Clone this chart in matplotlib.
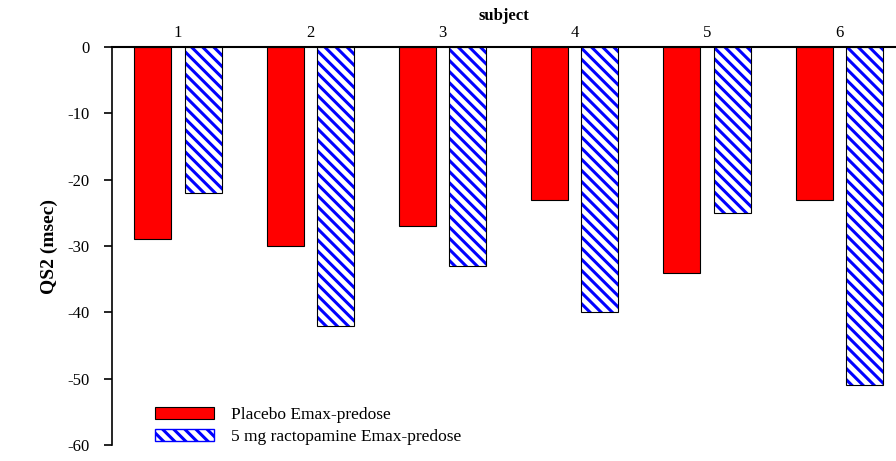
import matplotlib
matplotlib.use("Agg")
import matplotlib.pyplot as plt
import numpy as np

subjects = [1, 2, 3, 4, 5, 6]
placebo = [-29, -30, -27, -23, -34, -23]
ractopamine = [-22, -42, -33, -40, -25, -51]

plt.rcParams['font.family'] = ['Liberation Serif', 'DejaVu Serif']
plt.rcParams['axes.unicode_minus'] = False
plt.rcParams['hatch.linewidth'] = 2.2
plt.rcParams['hatch.color'] = 'blue'

fig = plt.figure(figsize=(8.96, 4.61), dpi=100)
ax = fig.add_axes([112/896, 1 - 445/461, 1 - 112/896, (445 - 47)/461])

x = np.array(subjects)
w = 0.28
ax.bar(x - 0.19, placebo, w, color='red', edgecolor='black', lw=0.8,
       label='Placebo Emax-predose')
ax.bar(x + 0.19, ractopamine, w, color='white', edgecolor='blue', lw=0,
       hatch='\\\\\\')
ax.bar(x + 0.19, ractopamine, w, color='none', edgecolor='black', lw=0.8)
# legend proxy for hatched bars
ax.bar([0], [0], 0, color='white', edgecolor='blue', hatch='\\\\\\',
       label='5 mg ractopamine Emax-predose')

ax.set_xlim(0.5, 6.43)
ax.set_ylim(-60, 0)
ax.set_yticks(np.arange(-60, 1, 10))
ax.xaxis.tick_top()
ax.xaxis.set_label_position('top')
ax.set_xticks(subjects)
ax.tick_params(axis='x', length=0, pad=4, labelsize=12)
ax.tick_params(axis='y', direction='out', length=6, width=1.2, labelsize=12, pad=10)
ax.set_xlabel('subject', fontweight='bold', fontsize=12, labelpad=4)
ax.set_ylabel('QS2 (msec)', fontweight='bold', fontsize=14, labelpad=7)

ax.spines['right'].set_visible(False)
ax.spines['bottom'].set_visible(False)
ax.spines['top'].set_linewidth(1.5)
ax.spines['left'].set_linewidth(1.2)

leg = ax.legend(loc='lower left', bbox_to_anchor=(0.035, -0.04), frameon=False,
                fontsize=12.5, handlelength=3.4, handleheight=0.7,
                labelspacing=0.35, handletextpad=1.0)

fig.savefig('out.png', dpi=100)
